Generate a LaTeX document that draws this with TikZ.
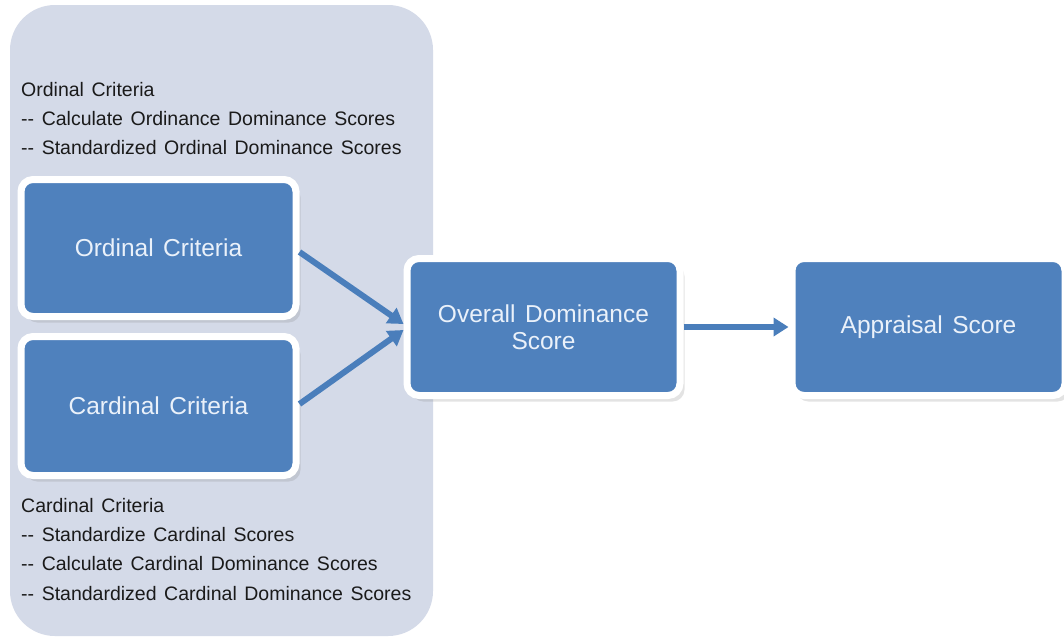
\documentclass[tikz,border=0pt]{standalone}
\usepackage{fontspec}
\setmainfont[WordSpace=1.4]{Liberation Sans}
\usetikzlibrary{arrows.meta,shadows}
\definecolor{panelbg}{HTML}{D4DAE8}
\definecolor{boxblue}{HTML}{4F81BD}
\definecolor{boxtext}{HTML}{EAF1FA}
\definecolor{arrowblue}{HTML}{4A7EBB}
\definecolor{inktext}{HTML}{1A1A1A}
\tikzset{
  bluebox/.style={draw=white, line width=7pt, fill=boxblue, rounded corners=12pt,
    minimum width=273pt, minimum height=137pt, inner sep=0pt, align=center,
    text=boxtext, font=\fontsize{24.5}{27}\selectfont,
    drop shadow={opacity=0.22, shadow xshift=4.5pt, shadow yshift=-6pt}},
  notes/.style={align=left, inner sep=0pt, text=inktext, anchor=north west,
    font=\fontsize{19.5}{29.3}\selectfont},
  flow/.style={draw=arrowblue, line width=6pt, -{Triangle[width=18pt,length=15pt]}}
}
\begin{document}
\begin{tikzpicture}[x=1pt,y=-1pt]
\useasboundingbox (0,0) rectangle (1064,638);
\fill[white] (0,0) rectangle (1064,638);
\fill[panelbg, rounded corners=45pt] (10,5) rectangle (433,636);
\node[notes] (ordnotes) at (21,82) {Ordinal Criteria\\-{}- Calculate Ordinance Dominance Scores\\-{}- Standardized Ordinal Dominance Scores};
\node[notes] (cardnotes) at (21,498) {Cardinal Criteria\\-{}- Standardize Cardinal Scores\\-{}- Calculate Cardinal Dominance Scores\\-{}- Standardized Cardinal Dominance Scores};
\node[bluebox, minimum width=275pt] (ord) at (158.5,248) {Ordinal Criteria};
\node[bluebox, minimum width=275pt, minimum height=139pt] (card) at (158.5,406) {Cardinal Criteria};
\node[bluebox] (ovr) at (543.5,327) {Overall Dominance\\Score};
\node[bluebox] (app) at (928.5,327) {Appraisal Score};
\draw[flow] ([yshift=-4pt]ord.east) -- ([yshift=3pt]ovr.west);
\draw[flow] ([yshift=2pt]card.east) -- ([yshift=-3pt]ovr.west);
\draw[flow] (ovr.east) -- (app.west);
\end{tikzpicture}
\end{document}
